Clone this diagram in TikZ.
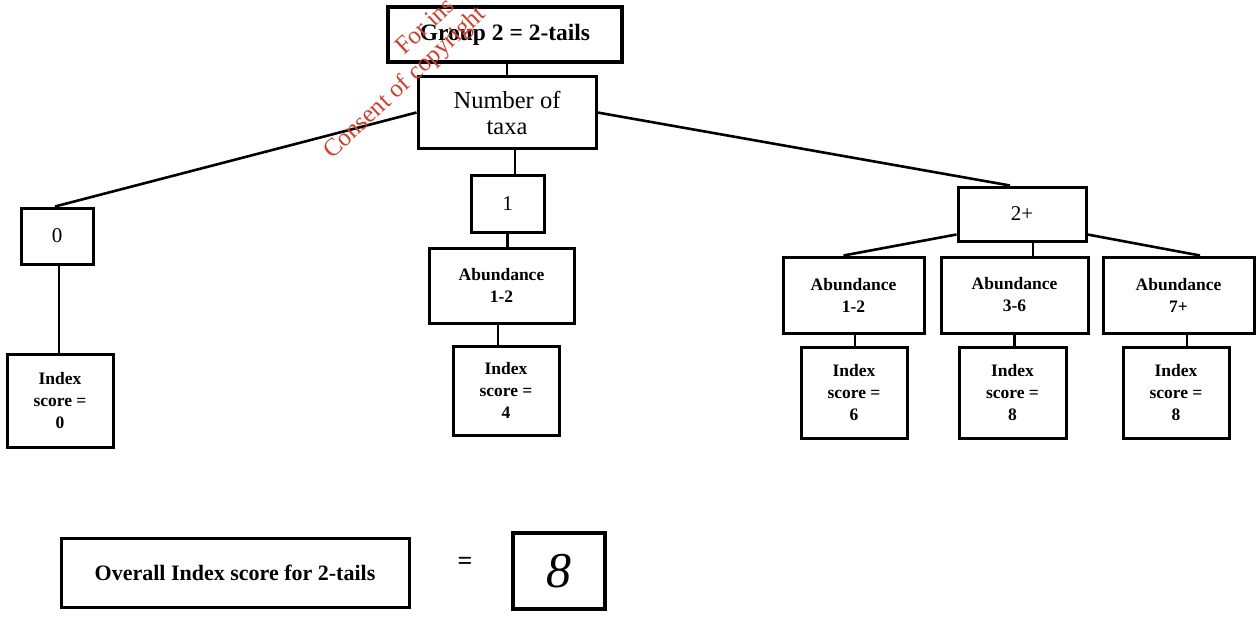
\documentclass[tikz,border=0pt]{standalone}
\usepackage{fontspec}
\setmainfont{Liberation Serif}
\definecolor{stampred}{RGB}{205,65,45}
\begin{document}
\begin{tikzpicture}[x=1pt,y=-1pt,
  box/.style={draw, line width=3pt, inner sep=0pt, align=center},
  bigtxt/.style={font=\fontsize{24.5}{26}\selectfont},
  numtxt/.style={font=\fontsize{21}{22}\selectfont},
  smalltxt/.style={font=\fontsize{17.5}{22}\selectfont\bfseries},
  link/.style={line width=2.6pt},
  stamp/.style={text=stampred, font=\fontsize{25}{27}\selectfont, rotate=43, anchor=base west, inner sep=0pt}
]
\useasboundingbox (0,0) rectangle (1259,618);
\fill[white] (0,0) rectangle (1259,618);

% root and first split
\node[box, line width=4pt, minimum width=234pt, minimum height=55pt,
      font=\fontsize{23.5}{26}\selectfont\bfseries] (grp) at (505,34.5) {Group 2 = 2-tails};
\node[box, bigtxt, minimum width=178pt, minimum height=71pt] (num) at (507,112.5) {Number of\\taxa};

% number of taxa branches
\node[box, numtxt, minimum width=72pt, minimum height=56pt] (b0) at (57,236) {0};
\node[box, numtxt, minimum width=73pt, minimum height=57pt] (b1) at (507.5,203.5) {1};
\node[box, numtxt, minimum width=128pt, minimum height=54pt] (b2) at (1022,214) {2+};

% abundance classes
\node[box, smalltxt, minimum width=145pt, minimum height=75pt] (a12) at (501.5,285.5) {Abundance\\1-2};
\node[box, smalltxt, minimum width=141pt, minimum height=76pt] (c1) at (853.5,295) {Abundance\\1-2};
\node[box, smalltxt, minimum width=147pt, minimum height=76pt] (c2) at (1014.5,295) {Abundance\\3-6};
\node[box, smalltxt, minimum width=151pt, minimum height=76pt] (c3) at (1178.5,295) {Abundance\\7+};

% index scores
\node[box, smalltxt, minimum width=106pt, minimum height=93pt] (i0) at (60,400.5) {Index\\score =\\0};
\node[box, smalltxt, minimum width=106pt, minimum height=89pt] (i4) at (506,390.5) {Index\\score =\\4};
\node[box, smalltxt, minimum width=106pt, minimum height=91pt] (s1) at (854,392.5) {Index\\score =\\6};
\node[box, smalltxt, minimum width=107pt, minimum height=91pt] (s2) at (1012.5,392.5) {Index\\score =\\8};
\node[box, smalltxt, minimum width=106pt, minimum height=91pt] (s3) at (1176,392.5) {Index\\score =\\8};

% overall result
\node[box, minimum width=348pt, minimum height=69pt,
      font=\fontsize{22}{24}\selectfont\bfseries] (all) at (235,572.5) {Overall Index score for 2-tails};
\node[font=\fontsize{26}{28}\selectfont\bfseries] (eq) at (465,563) {=};
\node[box, line width=3.6pt, minimum width=92pt, minimum height=76pt,
      font=\fontsize{50}{52}\selectfont\itshape] (res) at (559,571) {8};

% connectors
\draw[link] (num.north |- grp.south) -- (num.north);
\draw[link] (num.west) -- ([xshift=-2pt]b0.north);
\draw[link] (num.east) -- ([xshift=-12pt]b2.north);
\draw[link] ([xshift=7.5pt]b1.north |- num.south) -- ([xshift=7.5pt]b1.north);
\draw[link] (b1.south) -- (b1.south |- a12.north);
\draw[link] ([xshift=-3.5pt]a12.south) -- ([xshift=-3.5pt]a12.south |- i4.north);
\draw[link] ([xshift=2pt]b0.south) -- ([xshift=2pt]b0.south |- i0.north);
\draw[link] ([yshift=8pt]b2.south west) -- ([xshift=-10pt]c1.north);
\draw[link] ([xshift=11pt]b2.south) -- ([xshift=11pt]b2.south |- c2.north);
\draw[link] ([yshift=8pt]b2.south east) -- ([xshift=21.5pt]c3.north);
\draw[link] ([xshift=1.5pt]c1.south) -- ([xshift=1.5pt]c1.south |- s1.north);
\draw[link] (c2.south) -- (c2.south |- s2.north);
\draw[link] ([xshift=8.5pt]c3.south) -- ([xshift=8.5pt]c3.south |- s3.north);

% red copyright stamp across the top
\node[stamp] (st1) at (404,56) {For ins};
\node[stamp] (st2) at (332,160) {Consent of copyright};
\end{tikzpicture}
\end{document}
